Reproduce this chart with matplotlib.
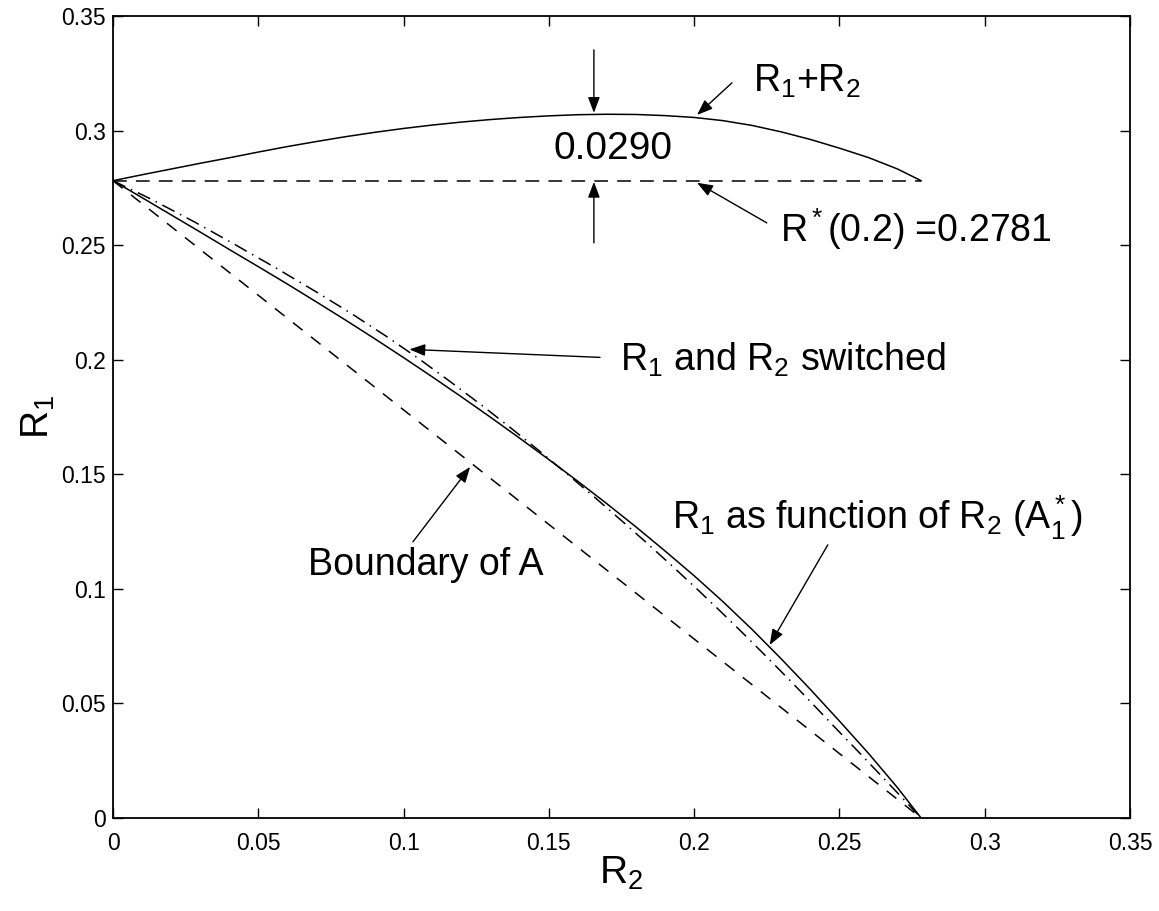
import matplotlib
matplotlib.use("Agg")
import matplotlib.pyplot as plt

plt.rcParams['font.family'] = ['Liberation Sans', 'DejaVu Sans']
plt.rcParams['mathtext.fontset'] = 'custom'
plt.rcParams['mathtext.rm'] = 'Liberation Sans'
plt.rcParams['mathtext.it'] = 'Liberation Sans'
plt.rcParams['mathtext.bf'] = 'Liberation Sans:bold'

# R1 as a function of R2 (A1*)
r2 = [0.0, 0.01, 0.02, 0.03, 0.04, 0.05, 0.06, 0.07, 0.08, 0.09,
      0.10, 0.11, 0.12, 0.13, 0.14, 0.15, 0.16, 0.17, 0.18, 0.19,
      0.20, 0.21, 0.22, 0.23, 0.24, 0.25, 0.26, 0.27, 0.2781]
r1 = [0.2781, 0.2707, 0.2632, 0.2557, 0.2481, 0.2406, 0.2330, 0.2252, 0.2173, 0.2092,
      0.2009, 0.1924, 0.1837, 0.1748, 0.1657, 0.1564, 0.1469, 0.1371, 0.1270, 0.1165,
      0.1057, 0.0943, 0.0822, 0.0694, 0.0561, 0.0423, 0.0282, 0.0132, 0.0]
# R1+R2 (upper solid curve)
r_sum = [0.2781, 0.2807, 0.2832, 0.2857, 0.2881, 0.2906, 0.2930, 0.2952, 0.2973, 0.2992,
         0.3009, 0.3024, 0.3037, 0.3048, 0.3057, 0.3064, 0.3069, 0.3071, 0.3070, 0.3065,
         0.3057, 0.3043, 0.3022, 0.2994, 0.2961, 0.2923, 0.2882, 0.2832, 0.2781]

# R1 and R2 switched (dash-dot)
sw_x = [0.0, 0.0132, 0.0282, 0.0423, 0.0561, 0.0694, 0.0822, 0.0943, 0.1057, 0.1165,
        0.1270, 0.1371, 0.1469, 0.1564, 0.1657, 0.1748, 0.1837, 0.1924, 0.2009, 0.2092,
        0.2173, 0.2252, 0.2330, 0.2406, 0.2481, 0.2557, 0.2632, 0.2707, 0.2781]
sw_y = [0.2781, 0.27, 0.26, 0.25, 0.24, 0.23, 0.22, 0.21, 0.20, 0.19,
        0.18, 0.17, 0.16, 0.15, 0.14, 0.13, 0.12, 0.11, 0.10, 0.09,
        0.08, 0.07, 0.06, 0.05, 0.04, 0.03, 0.02, 0.01, 0.0]

# boundary of A and R*(0.2) level
bound_x = [0.0, 0.2781]
bound_y = [0.2781, 0.0]
r_star = 0.2781

fig = plt.figure(figsize=(11.59, 9.11), dpi=100)
ax = fig.add_axes([0.0975, 0.1021, 0.8775, 0.8804])

lw = 1.1
ax.plot(r2, r_sum, color='k', lw=lw)
ax.plot(r2, r1, color='k', lw=lw)
ax.plot(sw_x, sw_y, color='k', lw=lw, dashes=(9, 4, 1, 4))
ax.plot(bound_x, bound_y, color='k', lw=lw, dashes=(8, 7))
ax.plot([0.0, r_star], [r_star, r_star], color='k', lw=lw, dashes=(9, 6))

ax.set_xlim(0, 0.35)
ax.set_ylim(0, 0.35)
ticks = [0, 0.05, 0.1, 0.15, 0.2, 0.25, 0.3, 0.35]
tick_labels = ['0', '0.05', '0.1', '0.15', '0.2', '0.25', '0.3', '0.35']
ax.set_xticks(ticks)
ax.set_yticks(ticks)
ax.set_xticklabels(tick_labels)
ax.set_yticklabels(tick_labels)
ax.tick_params(direction='in', top=True, right=True, length=7, width=1, labelsize=16.5)
ax.tick_params(axis='x', pad=10)
ax.tick_params(axis='y', pad=5)
for s in ax.spines.values():
    s.set_linewidth(1.3)

ax.set_xlabel(r'R$_2$', fontsize=28, labelpad=0)
ax.set_ylabel(r'R$_1$', fontsize=28, labelpad=3)

arrow = dict(arrowstyle='-|>,head_length=0.95,head_width=0.36', color='k', lw=1,
             mutation_scale=10, shrinkA=0, shrinkB=0)

ax.annotate('', xy=(0.1655, 0.3077), xytext=(0.1655, 0.3352), arrowprops=arrow)
ax.annotate('', xy=(0.1655, 0.2776), xytext=(0.1655, 0.251), arrowprops=arrow)
ax.text(0.172, 0.292, '0.0290', fontsize=28, ha='center', va='center')

ax.annotate('', xy=(0.201, 0.3068), xytext=(0.213, 0.3208), arrowprops=arrow)
ax.text(0.2203, 0.3169, r'R$_1$+R$_2$', fontsize=27, ha='left', va='baseline')

ax.annotate('', xy=(0.201, 0.2772), xytext=(0.225, 0.2597), arrowprops=arrow)
ax.text(0.2295, 0.2514, r'R$^*$(0.2) =0.2781', fontsize=27, ha='left', va='baseline')

ax.annotate('', xy=(0.102, 0.2045), xytext=(0.1676, 0.201), arrowprops=arrow)
ax.text(0.1745, 0.195, r'R$_1$ and R$_2$ switched', fontsize=27, ha='left', va='baseline')

ax.annotate('', xy=(0.226, 0.0755), xytext=(0.246, 0.1192), arrowprops=arrow)
ax.text(0.1924, 0.1257, r'R$_1$ as function of R$_2$ (A$_1^*$)', fontsize=27,
        ha='left', va='baseline')

ax.annotate('', xy=(0.1229, 0.1532), xytext=(0.1032, 0.1205), arrowprops=arrow)
ax.text(0.067, 0.106, 'Boundary of A', fontsize=27, ha='left', va='baseline')

fig.savefig('out.png', dpi=100)
